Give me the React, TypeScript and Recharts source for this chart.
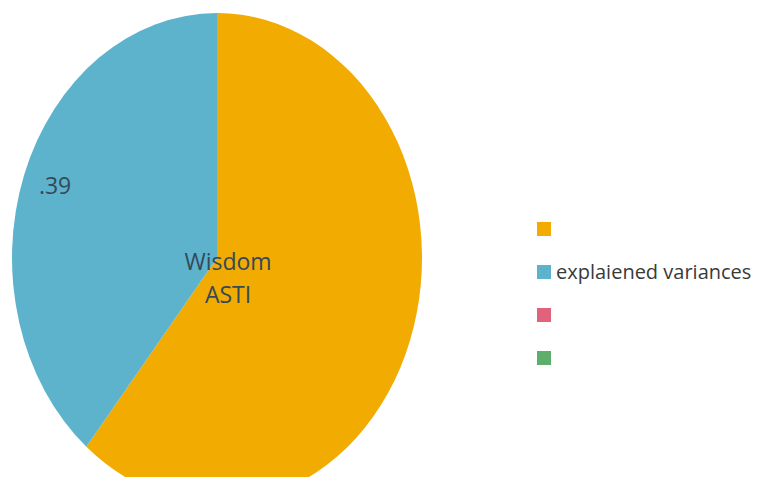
import { PieChart, Pie, Cell, Legend, Label, Sector } from 'recharts'

// slice names as they appear in the legend (only one is labelled)
const names = ['', 'explaiened variances', '', '']
const values = [61, 39, 0, 0]
const colors = ['#F2AB00', '#5DB3CC', '#E0637B', '#5EAE6B']
const centerLines = ['Wisdom', 'ASTI']

const data = names.map((name, i) => ({ name, value: values[i] }))

// the reference pie is stretched vertically into an ellipse
const Y_STRETCH = 1.195

const EllipseSector = (props: any) => {
  const { cx, cy } = props
  if (Math.abs(props.endAngle - props.startAngle) < 0.01) return null
  return (
    <g transform={`translate(${cx} ${cy}) scale(1 ${Y_STRETCH}) translate(${-cx} ${-cy})`}>
      <Sector {...props} stroke="none" />
    </g>
  )
}

const RADIAN = Math.PI / 180

const renderSliceLabel = (props: any) => {
  const { cx, cy, midAngle, outerRadius, value, index } = props
  if (index !== 1) return null
  const r = outerRadius * 0.85
  const x = cx + r * Math.cos(-midAngle * RADIAN)
  const y = cy + r * Math.sin(-midAngle * RADIAN) * Y_STRETCH
  return (
    <text
      x={x + 2}
      y={y - 2}
      fill="#34495a"
      fontSize={23}
      fontFamily="'Open Sans', sans-serif"
      textAnchor="middle"
      dominantBaseline="central"
    >
      {'.' + value}
    </text>
  )
}

const renderCenter = (props: any) => {
  const { viewBox } = props
  const cx = viewBox?.cx ?? 217
  const cy = viewBox?.cy ?? 258
  return (
    <text
      x={cx + 11}
      textAnchor="middle"
      fill="#34495a"
      fontSize={23}
      fontFamily="'Open Sans', sans-serif"
    >
      {centerLines.map((line, i) => (
        <tspan key={line} x={cx + 11} y={cy + 12 + i * 33}>
          {line}
        </tspan>
      ))}
    </text>
  )
}

// legend keeps the original category order
const renderLegend = () => (
  <div style={{ fontFamily: "'Open Sans', sans-serif" }}>
    {data.map((d, i) => (
      <div
        key={i}
        style={{
          display: 'flex',
          alignItems: 'center',
          height: 43,
          fontSize: 20,
          color: '#3a3a3a',
        }}
      >
        <span
          style={{
            display: 'inline-block',
            width: 14,
            height: 14,
            background: colors[i],
            marginRight: 5,
          }}
        />
        <span>{d.name}</span>
      </div>
    ))}
  </div>
)

export default function App() {
  return (
    <div style={{ position: 'absolute', left: 0, top: 0, width: 773, height: 477, background: '#fff' }}>
      <PieChart width={773} height={477} margin={{ top: 0, right: 0, bottom: 0, left: 0 }}>
        <Pie
          data={data}
          dataKey="value"
          nameKey="name"
          cx={217}
          cy={258}
          outerRadius={205}
          startAngle={90}
          endAngle={-270}
          shape={EllipseSector}
          label={renderSliceLabel}
          labelLine={false}
          isAnimationActive={false}
        >
          {data.map((d, i) => (
            <Cell key={i} fill={colors[i]} />
          ))}
          <Label content={renderCenter} position="center" />
        </Pie>
        <Legend
          layout="vertical"
          align="right"
          verticalAlign="top"
          content={renderLegend}
          wrapperStyle={{ position: 'absolute', left: 537, top: 207, width: 236 }}
        />
      </PieChart>
    </div>
  )
}
